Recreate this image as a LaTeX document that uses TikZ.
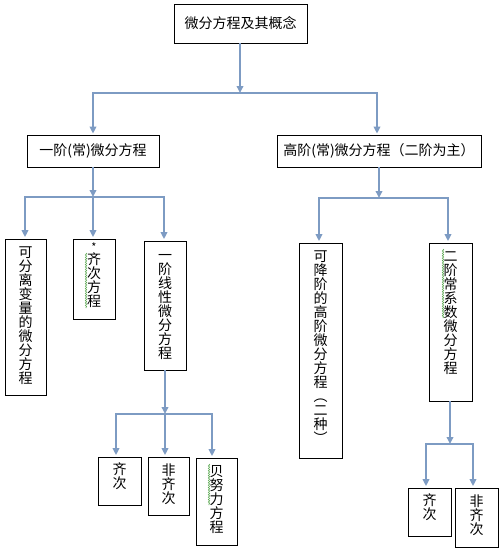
\documentclass[tikz,border=0pt]{standalone}
\usepackage{fontspec}
\setmainfont{Noto Sans CJK SC}
\usetikzlibrary{arrows.meta,decorations.pathmorphing}
\definecolor{connc}{RGB}{125,155,195}
\definecolor{spell}{RGB}{95,170,85}
\newcommand\fs{\rule{0pt}{12pt}}
\begin{document}
\begin{tikzpicture}[x=1pt,y=-1pt,
  box/.style={draw=black, line width=0.8pt, inner sep=0pt},
  htext/.style={font=\fontsize{14}{16}\selectfont},
  vtext/.style={anchor=north, align=center, inner sep=0pt, font=\fontsize{14}{14}\selectfont},
  conn/.style={draw=connc, line width=1.8pt},
  arr/.style={conn, -{Triangle[width=6.5pt,length=7pt]}},
  squig/.style={draw=spell, line width=0.6pt, decorate, decoration={snake,amplitude=0.7pt,segment length=2.4pt}}
]
\useasboundingbox (0,0) rectangle (502,557);
\fill[white] (0,0) rectangle (502,557);

% boxes
\node[box, htext, minimum width=133pt, minimum height=39pt] (top) at (240.5,23.5) {微分方程及其概念};
\node[box, htext, minimum width=132pt, minimum height=32pt] (L1) at (93,151) {一阶(常)微分方程};
\node[box, htext, minimum width=204pt, minimum height=32pt] (R1) at (379,151) {高阶(常)微分方程（二阶为主）};

\node[box, minimum width=41pt, minimum height=156pt] (A) at (25.5,317) {};
\node[box, minimum width=42pt, minimum height=80pt] (B) at (94,279) {};
\node[box, minimum width=42pt, minimum height=129pt] (C) at (165,305.5) {};
\node[box, minimum width=43pt, minimum height=215pt] (D) at (320.5,350.5) {};
\node[box, minimum width=43pt, minimum height=158pt] (E) at (450.5,322) {};
\node[box, minimum width=43pt, minimum height=48pt] (F) at (119.5,481) {};
\node[box, minimum width=41pt, minimum height=58pt] (G) at (168.5,486) {};
\node[box, minimum width=41pt, minimum height=87pt] (H) at (216.5,501.5) {};
\node[box, minimum width=43pt, minimum height=48pt] (I) at (429.5,512) {};
\node[box, minimum width=43pt, minimum height=59pt] (J) at (476.5,517.5) {};

% vertical texts
\node[vtext, yshift=-7pt] (At) at (A.north) {\fs 可\\分\\离\\变\\量\\的\\微\\分\\方\\程};
\node[vtext, yshift=-0.4pt] (Bt) at (B.north) {\fs{\fontsize{11}{11}\selectfont *}\\[-1pt]齐\\次\\方\\程};
\node[vtext, yshift=-8pt] (Ct) at (C.north) {\fs 一\\阶\\线\\性\\微\\分\\方\\程};
\node[vtext, yshift=-6.5pt] (Dt) at (D.north) {\fs 可\\降\\阶\\的\\高\\阶\\微\\分\\方\\程\\︵\\二\\种\\︶};
\node[vtext, yshift=-6.5pt] (Et) at (E.north) {\fs 二\\阶\\常\\系\\数\\微\\分\\方\\程};
\node[vtext, yshift=-5.5pt] (Ft) at (F.north) {\fs 齐\\次};
\node[vtext, yshift=-6.5pt] (Gt) at (G.north) {\fs 非\\齐\\次};
\node[vtext, yshift=-6.5pt] (Ht) at (H.north) {\fs 贝\\努\\力\\方\\程};
\node[vtext, yshift=-5.5pt] (It) at (I.north) {\fs 齐\\次};
\node[vtext, yshift=-6.5pt] (Jt) at (J.north) {\fs 非\\齐\\次};

% junction coordinates
\coordinate (j0) at (240,93);    \coordinate (j0l) at (93,93);   \coordinate (j0r) at (377,93);
\coordinate (j1) at (93,197);    \coordinate (j1l) at (25,197);  \coordinate (j1r) at (164,197);
\coordinate (j2) at (165,414);   \coordinate (j2l) at (116,414); \coordinate (j2r) at (212,414);
\coordinate (j3) at (379,198);   \coordinate (j3l) at (319,198); \coordinate (j3r) at (448,198);
\coordinate (j4) at (450,444);   \coordinate (j4l) at (426,444); \coordinate (j4r) at (473,444);

% connectors
\draw[arr] (top.south -| j0) -- (j0);
\draw[arr, shorten >=1pt] (j0) -- (j0l) -- (j0l |- L1.north);
\draw[arr, shorten >=1pt] (j0) -- (j0r) -- (j0r |- R1.north);

\draw[arr] (L1.south) -- (j1);
\draw[arr, shorten >=1.5pt] (j1) -- (j1l) -- (j1l |- A.north);
\draw[arr, shorten >=1.5pt] (j1) -- (B.north -| j1);
\draw[arr, shorten >=1.5pt] (j1) -- (j1r) -- (j1r |- C.north);

\draw[arr] (C.south) -- (j2);
\draw[arr, shorten >=1.5pt] (j2) -- (j2l) -- (j2l |- F.north);
\draw[arr, shorten >=1.5pt] (j2) -- (G.north -| j2);
\draw[arr, shorten >=1.5pt] (j2) -- (j2r) -- (j2r |- H.north);

\draw[arr] (R1.south) -- (j3);
\draw[arr, shorten >=1.5pt] (j3) -- (j3l) -- (j3l |- D.north);
\draw[arr, shorten >=1.5pt] (j3) -- (j3r) -- (j3r |- E.north);

\draw[arr] (E.south -| j4) -- (j4);
\draw[arr, shorten >=1.5pt] (j4) -- (j4l) -- (j4l |- I.north);
\draw[arr, shorten >=1.5pt] (j4) -- (j4r) -- (j4r |- J.north);

% spell-check squiggles
\draw[squig] (86,253) -- (86,308);
\draw[squig] (443,249) -- (443,318);
\draw[squig] (209,464) -- (209,505);
\end{tikzpicture}
\end{document}
